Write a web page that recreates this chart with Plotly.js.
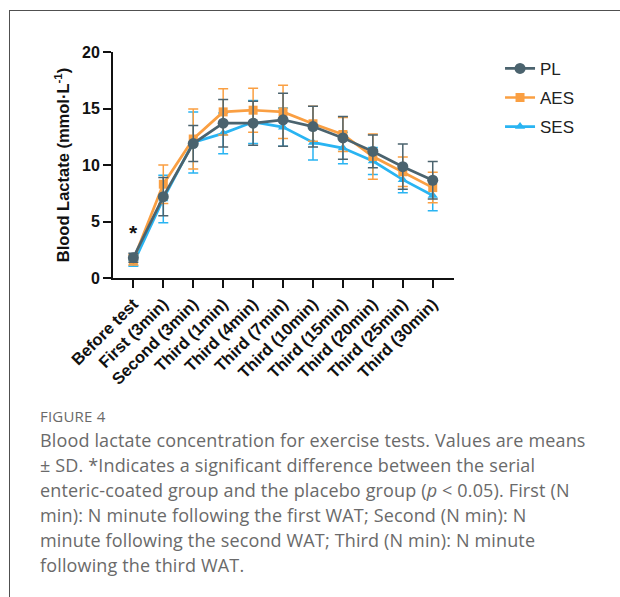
<!DOCTYPE html>
<html>
<head>
<meta charset="utf-8">
<script src="https://cdn.plot.ly/plotly-3.0.1.min.js"></script>
<style>
  html, body { margin:0; padding:0; background:#fff; width:620px; height:597px; overflow:hidden; }
  #frame { position:absolute; left:9px; top:10px; width:700px; height:700px;
           border-top:1.5px solid #505050; border-left:1.5px solid #505050; }
  #chart { position:absolute; left:0; top:0; width:620px; height:597px; }
  #caption { position:absolute; left:40px; top:405px; font-family:"Open Sans", "Noto Sans", sans-serif;
             color:#6a6a6a; white-space:nowrap; }
  #caption .fig { font-size:15px; letter-spacing:0.2px; line-height:22px; margin-bottom:1px; }
  #caption .body { font-size:18px; letter-spacing:0.15px; line-height:25px; }
</style>
</head>
<body>
<div id="frame"></div>
<div id="chart"></div>
<div id="caption">
  <div class="fig">FIGURE 4</div>
  <div class="body">Blood lactate concentration for exercise tests. Values are means<br>± SD. *Indicates a significant difference between the serial<br>enteric-coated group and the placebo group (<i>p</i> &lt; 0.05). First (N<br>min): N minute following the first WAT; Second (N min): N<br>minute following the second WAT; Third (N min): N minute<br>following the third WAT.</div>
</div>
<script>
const categories = ["Before test","First (3min)","Second (3min)","Third (1min)","Third (4min)","Third (7min)","Third (10min)","Third (15min)","Third (20min)","Third (25min)","Third (30min)"];
const plMean  = [1.8, 7.2, 11.9, 13.7, 13.7, 14.0, 13.4, 12.4, 11.2, 9.85, 8.65];
const plSD    = [0.4, 1.7, 1.6, 2.1, 1.95, 2.35, 1.8, 1.9, 1.45, 2.0, 1.65];
const aesMean = [1.6, 8.3, 12.3, 14.7, 14.85, 14.7, 13.65, 12.7, 10.75, 9.4, 8.0];
const aesSD   = [0.45, 1.7, 2.65, 2.05, 1.95, 2.35, 1.55, 1.5, 2.0, 1.3, 1.35];
const sesMean = [1.3, 7.0, 12.0, 12.8, 13.8, 13.35, 12.0, 11.5, 10.35, 8.7, 7.3];
const sesSD   = [0.25, 2.1, 2.7, 1.8, 1.9, 1.7, 1.55, 1.4, 1.2, 1.15, 1.35];
const yTicks  = [0, 5, 10, 15, 20];
const sigIndex = 0, sigY = 4.0, sigMark = "*";

const xIdx = categories.map((c, i) => i);
const colPL = "#4b636e", colAES = "#fa9f42", colSES = "#29b4f2";

function series(name, mean, sd, color, symbol, size, rank) {
  return {
    type: "scatter", mode: "lines+markers", name: name,
    x: xIdx, y: mean, legendrank: rank, legendgroup: name,
    line: { color: color, width: 2.7 },
    marker: { color: color, symbol: symbol, size: size },
    error_y: { type: "data", array: sd, visible: true, color: color, thickness: 1.5, width: 5 }
  };
}

const data = [
  series("SES", sesMean, sesSD, colSES, "triangle-up", 9, 3),
  series("AES", aesMean, aesSD, colAES, "square", 9, 2),
  series("PL",  plMean,  plSD,  colPL,  "circle", 11, 1)
];

const layout = {
  width: 620, height: 597,
  margin: { l: 113, r: 166, t: 52, b: 319, pad: 0 },
  paper_bgcolor: "rgba(0,0,0,0)", plot_bgcolor: "rgba(0,0,0,0)",
  font: { family: "Liberation Sans, Arial, sans-serif", color: "#111" },
  showlegend: true,
  legend: { x: 1.135, y: 1.005, xanchor: "left", yanchor: "top", traceorder: "grouped",
            tracegroupgap: 4, font: { size: 17, color: "#222" }, bgcolor: "rgba(0,0,0,0)" },
  xaxis: {
    range: [-0.68, 10.71], tickvals: xIdx, ticktext: categories, tickangle: -45,
    showline: true, linecolor: "#111", linewidth: 2, ticks: "outside", ticklen: 8, tickwidth: 2,
    tickcolor: "#111", showgrid: false, zeroline: false, automargin: false,
    tickfont: { size: 16.5, weight: "bold", color: "#111" }
  },
  yaxis: {
    range: [0, 20], tickvals: yTicks,
    showline: true, linecolor: "#111", linewidth: 2, ticks: "outside", ticklen: 8, tickwidth: 2,
    tickcolor: "#111", showgrid: false, zeroline: false, automargin: false,
    tickfont: { size: 16, weight: "bold", color: "#111" },
    title: { text: "Blood Lactate (mmol·L<sup>-1</sup>)", standoff: 8,
             font: { size: 16.5, weight: "bold", color: "#111" } }
  },
  annotations: [
    { x: sigIndex, y: sigY, xref: "x", yref: "y", text: sigMark, showarrow: false,
      font: { size: 21, weight: "bold", color: "#111" } }
  ]
};

Plotly.newPlot("chart", data, layout, { staticPlot: true, displayModeBar: false });
</script>
</body>
</html>
